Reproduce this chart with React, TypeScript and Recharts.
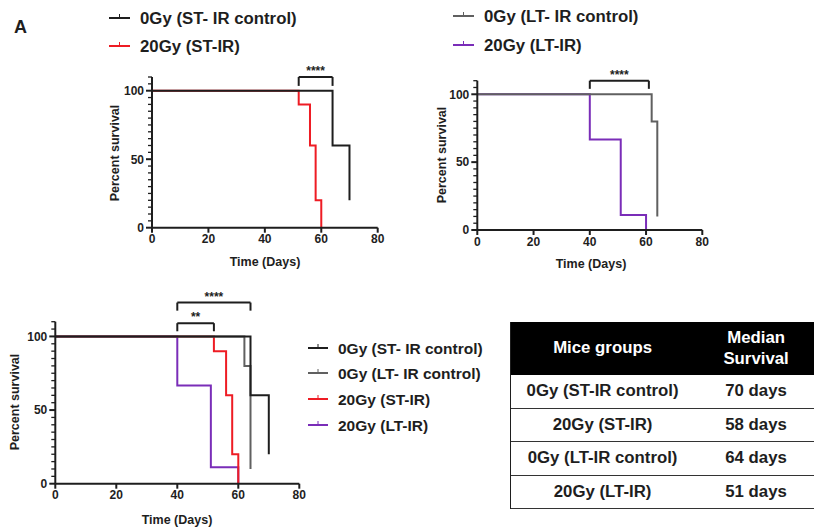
import React from 'react';
import { LineChart, Line, XAxis, YAxis, ReferenceLine } from 'recharts';

const FONT = 'Arial, "Liberation Sans", Helvetica, sans-serif';
const INK = '#1e1e1e';

// Kaplan–Meier survival steps (time in days, percent surviving)
const ST_CONTROL = [
  { t: 0, s: 100 },
  { t: 64, s: 60 },
  { t: 70, s: 20 },
];
const ST_IR = [
  { t: 0, s: 100 },
  { t: 52, s: 90 },
  { t: 56, s: 60 },
  { t: 58, s: 20 },
  { t: 60, s: 0 },
];
const LT_CONTROL = [
  { t: 0, s: 100 },
  { t: 62, s: 80 },
  { t: 64, s: 10 },
];
const LT_IR = [
  { t: 0, s: 100 },
  { t: 40, s: 66.7 },
  { t: 51, s: 11.1 },
  { t: 60, s: 0 },
];

const X_TICKS = [0, 20, 40, 60, 80];
const Y_TICKS = [0, 5, 10, 15, 20, 25, 30, 35, 40, 45, 50, 55, 60, 65, 70, 75, 80, 85, 90, 95, 100, 105, 110];
const Y_LABELS = [0, 50, 100];

const SER_ST_CONTROL = { name: '0Gy (ST- IR control)', color: INK, data: ST_CONTROL };
const SER_LT_CONTROL = { name: '0Gy (LT- IR control)', color: '#606060', data: LT_CONTROL };
const SER_ST_IR = { name: '20Gy (ST-IR)', color: '#ee1c24', data: ST_IR };
const SER_LT_IR = { name: '20Gy (LT-IR)', color: '#7a2db8', data: LT_IR };

// significance brackets: from day, to day, label
const BRACKETS_ST = [{ from: 52, to: 64, label: '****' }];
const BRACKETS_LT = [{ from: 40, to: 61, label: '****' }];
const BRACKETS_ALL = [
  { from: 40, to: 64, label: '****' },
  { from: 40, to: 52, label: '**' },
];

const TABLE_GROUPS = ['0Gy (ST-IR control)', '20Gy (ST-IR)', '0Gy (LT-IR control)', '20Gy (LT-IR)'];
const TABLE_MEDIANS = ['70 days', '58 days', '64 days', '51 days'];

const YTick = (props: any) => {
  const { x, y, payload } = props;
  const major = Y_LABELS.includes(payload.value);
  const len = major ? 6 : 4;
  return (
    <g>
      <line x1={x - len} x2={x} y1={y} y2={y} stroke={INK} strokeWidth={major ? 2 : 1.3} />
      {major && (
        <text
          x={x - len - 2}
          y={y}
          dy="0.36em"
          textAnchor="end"
          fill={INK}
          fontSize={12}
          fontWeight={700}
          fontFamily={FONT}
        >
          {payload.value}
        </text>
      )}
    </g>
  );
};

type Bracket = { from: number; to: number; label: string };

function Panel({
  margin,
  series,
  brackets,
  levels,
}: {
  margin: { top: number; right: number; bottom: number; left: number };
  series: any[];
  brackets: Bracket[];
  levels: number[][];
}) {
  // axes take 1px each, so shift the margins to keep the plot box in place
  const m = { top: margin.top, right: margin.right, bottom: margin.bottom - 1, left: margin.left - 1 };
  return (
    <div style={{ position: 'absolute', left: 0, top: 0 }}>
      <LineChart width={814} height={529} margin={m}>
        <XAxis
          type="number"
          dataKey="t"
          domain={[0, 80]}
          ticks={X_TICKS}
          interval={0}
          height={1}
          tickSize={5}
          tickMargin={2}
          axisLine={{ stroke: INK, strokeWidth: 2 }}
          tickLine={{ stroke: INK, strokeWidth: 2 }}
          tick={{ fill: INK, fontSize: 12, fontWeight: 700, fontFamily: FONT }}
        />
        <YAxis
          type="number"
          domain={[0, 110]}
          ticks={Y_TICKS}
          interval={0}
          width={1}
          tickSize={0}
          tickMargin={0}
          tickLine={false}
          axisLine={{ stroke: INK, strokeWidth: 2 }}
          tick={(p: any) => <YTick {...p} />}
        />
        {series.map((s) => (
          <Line
            key={s.name}
            data={s.data}
            dataKey="s"
            name={s.name}
            type="stepAfter"
            stroke={s.color}
            strokeWidth={2}
            dot={false}
            activeDot={false}
            isAnimationActive={false}
          />
        ))}
        {brackets.flatMap((b, i) => {
          const [top, leg] = levels[i];
          return [
            <ReferenceLine
              key={`h${i}`}
              segment={[
                { x: b.from, y: top },
                { x: b.to, y: top },
              ]}
              ifOverflow="visible"
              stroke={INK}
              strokeWidth={2}
              label={{
                value: b.label,
                position: 'top',
                offset: 2,
                fill: INK,
                fontSize: 12,
                fontWeight: 700,
                fontFamily: FONT,
              }}
            />,
            <ReferenceLine
              key={`l${i}`}
              segment={[
                { x: b.from, y: top },
                { x: b.from, y: leg },
              ]}
              ifOverflow="visible"
              stroke={INK}
              strokeWidth={2}
            />,
            <ReferenceLine
              key={`r${i}`}
              segment={[
                { x: b.to, y: top },
                { x: b.to, y: leg },
              ]}
              ifOverflow="visible"
              stroke={INK}
              strokeWidth={2}
            />,
          ];
        })}
      </LineChart>
    </div>
  );
}

function LegendRow({ x, y, s, size, fontSize }: { x: number; y: number; s: any; size: number; fontSize: number }) {
  return (
    <g>
      <line x1={x} x2={x + size} y1={y} y2={y} stroke={s.color} strokeWidth={2} />
      <line x1={x + size / 2} x2={x + size / 2} y1={y - 4} y2={y} stroke={s.color} strokeWidth={1} />
      <text
        x={x + size + 10}
        y={y}
        dominantBaseline="central"
        fill={INK}
        fontSize={fontSize}
        fontWeight={700}
        fontFamily={FONT}
      >
        {s.name}
      </text>
    </g>
  );
}

function AxisTitle({ x, y, text, rotate }: { x: number; y: number; text: string; rotate?: boolean }) {
  return (
    <text
      x={x}
      y={y}
      textAnchor="middle"
      dominantBaseline="central"
      transform={rotate ? `rotate(-90 ${x} ${y})` : undefined}
      fill={INK}
      fontSize={12.5}
      fontWeight={700}
      fontFamily={FONT}
    >
      {text}
    </text>
  );
}

export default function App() {
  return (
    <div style={{ position: 'absolute', left: 0, top: 0, width: 814, height: 529, background: '#fff', overflow: 'hidden' }}>
      <Panel
        margin={{ top: 77, right: 436.3, bottom: 301.3, left: 152 }}
        series={[SER_ST_IR, SER_ST_CONTROL]}
        brackets={BRACKETS_ST}
        levels={[[110, 103.5]]}
      />
      <Panel
        margin={{ top: 80.7, right: 111.7, bottom: 299, left: 477.3 }}
        series={[SER_LT_IR, SER_LT_CONTROL]}
        brackets={BRACKETS_LT}
        levels={[[110, 104]]}
      />
      <Panel
        margin={{ top: 321.7, right: 514.7, bottom: 45.3, left: 55.3 }}
        series={[SER_LT_IR, SER_ST_IR, SER_LT_CONTROL, SER_ST_CONTROL]}
        brackets={BRACKETS_ALL}
        levels={[
          [123, 117.5],
          [109, 103.5],
        ]}
      />
      <svg width={814} height={529} style={{ position: 'absolute', left: 0, top: 0, pointerEvents: 'none' }}>
        <text x={14} y={27} dominantBaseline="central" fill={INK} fontSize={18} fontWeight={700} fontFamily={FONT}>
          A
        </text>
        <LegendRow x={109} y={18} s={SER_ST_CONTROL} size={21} fontSize={16.8} />
        <LegendRow x={109} y={46} s={SER_ST_IR} size={21} fontSize={16.8} />
        <LegendRow x={453} y={16} s={SER_LT_CONTROL} size={21} fontSize={16.8} />
        <LegendRow x={453} y={45} s={SER_LT_IR} size={21} fontSize={16.8} />
        <LegendRow x={308} y={348} s={SER_ST_CONTROL} size={20} fontSize={15.5} />
        <LegendRow x={308} y={373} s={SER_LT_CONTROL} size={20} fontSize={15.5} />
        <LegendRow x={308} y={399} s={SER_ST_IR} size={20} fontSize={15.5} />
        <LegendRow x={308} y={425} s={SER_LT_IR} size={20} fontSize={15.5} />

        <AxisTitle x={115} y={153} text="Percent survival" rotate />
        <AxisTitle x={265} y={262} text="Time (Days)" />
        <AxisTitle x={442} y={155} text="Percent survival" rotate />
        <AxisTitle x={591} y={264} text="Time (Days)" />
        <AxisTitle x={15} y={402} text="Percent survival" rotate />
        <AxisTitle x={177} y={520} text="Time (Days)" />
      </svg>

      <div
        style={{
          position: 'absolute',
          left: 510,
          top: 321.5,
          width: 304,
          borderLeft: `1.5px solid ${INK}`,
          fontFamily: FONT,
          fontWeight: 700,
          fontSize: 16.8,
          color: INK,
          boxSizing: 'border-box',
        }}
      >
        <div style={{ display: 'flex', height: 53.5, background: '#000', color: '#fff', alignItems: 'center' }}>
          <div style={{ width: 184, textAlign: 'center', paddingLeft: 2 }}>Mice groups</div>
          <div style={{ width: 119, textAlign: 'center', paddingLeft: 6, lineHeight: '21px' }}>
            Median
            <br />
            Survival
          </div>
        </div>
        {TABLE_GROUPS.map((g, i) => (
          <div
            key={g}
            style={{
              display: 'flex',
              height: 33.6,
              alignItems: 'center',
              borderBottom: '1.5px solid #333',
              boxSizing: 'border-box',
            }}
          >
            <div style={{ width: 184, textAlign: 'center', paddingLeft: 2 }}>{g}</div>
            <div style={{ width: 119, textAlign: 'center', paddingLeft: 6 }}>{TABLE_MEDIANS[i]}</div>
          </div>
        ))}
      </div>
    </div>
  );
}
